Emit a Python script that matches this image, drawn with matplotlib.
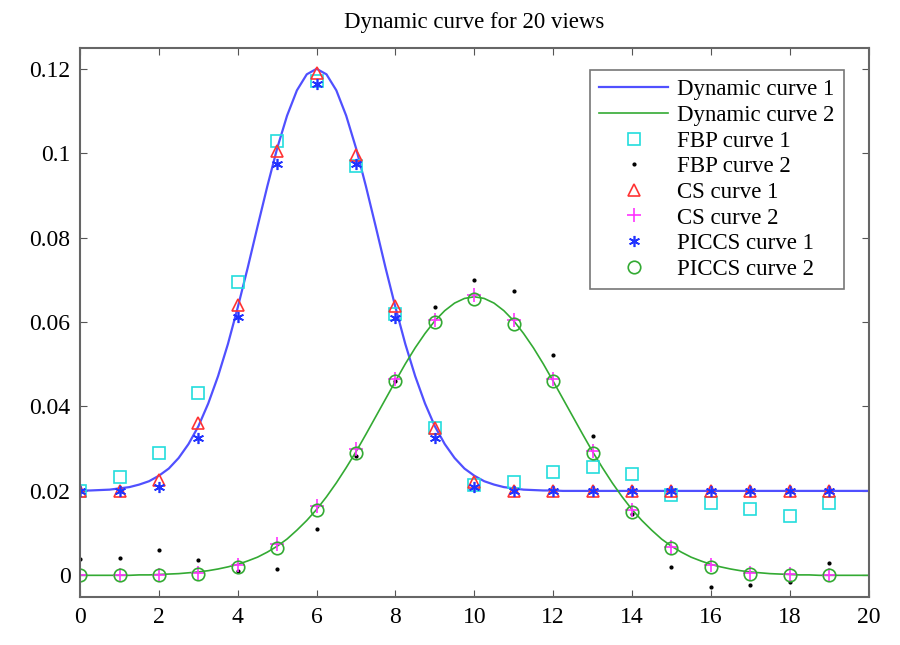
import numpy as np
import matplotlib
matplotlib.use('Agg')
import matplotlib.pyplot as plt

plt.rcParams['font.family'] = ['Liberation Serif', 'DejaVu Serif']

# smooth "true" curves, every quarter view
x_fine = np.arange(0, 20.25, 0.25)
dyn1 = [0.0201, 0.0201, 0.0202, 0.0203, 0.0206, 0.0209, 0.0215, 0.0223,
        0.0236, 0.0253, 0.0278, 0.0311, 0.0353, 0.0407, 0.0472, 0.0548,
        0.0635, 0.0728, 0.0826, 0.0922, 0.1012, 0.1089, 0.1149, 0.1187,
        0.1200,
        0.1187, 0.1149, 0.1089, 0.1012, 0.0922, 0.0826, 0.0728, 0.0635,
        0.0548, 0.0472, 0.0407, 0.0353, 0.0311, 0.0278, 0.0253, 0.0236,
        0.0223, 0.0215, 0.0209, 0.0206, 0.0203, 0.0202, 0.0201, 0.0201,
        0.0200, 0.0200, 0.0200, 0.0200, 0.0200, 0.0200, 0.0200, 0.0200,
        0.0200, 0.0200, 0.0200, 0.0200, 0.0200, 0.0200, 0.0200, 0.0200,
        0.0200, 0.0200, 0.0200, 0.0200, 0.0200, 0.0200, 0.0200, 0.0200,
        0.0200, 0.0200, 0.0200, 0.0200, 0.0200, 0.0200, 0.0200, 0.0200]
dyn2 = [0.0000, 0.0000, 0.0000, 0.0000, 0.0000, 0.0000, 0.0001, 0.0001,
        0.0002, 0.0003, 0.0004, 0.0006, 0.0008, 0.0011, 0.0015, 0.0020,
        0.0026, 0.0034, 0.0043, 0.0055, 0.0069, 0.0086, 0.0107, 0.0130,
        0.0156, 0.0186, 0.0219, 0.0255, 0.0293, 0.0334, 0.0376, 0.0418,
        0.0460, 0.0501, 0.0539, 0.0573, 0.0603, 0.0627, 0.0645, 0.0656,
        0.0660,
        0.0656, 0.0645, 0.0627, 0.0603, 0.0573, 0.0539, 0.0501, 0.0460,
        0.0418, 0.0376, 0.0334, 0.0293, 0.0255, 0.0219, 0.0186, 0.0156,
        0.0130, 0.0107, 0.0086, 0.0069, 0.0055, 0.0043, 0.0034, 0.0026,
        0.0020, 0.0015, 0.0011, 0.0008, 0.0006, 0.0004, 0.0003, 0.0002,
        0.0001, 0.0001, 0.0000, 0.0000, 0.0000, 0.0000, 0.0000, 0.0000]

# reconstructions at each of the 20 views
views = np.arange(20)
fbp1 = [0.0200, 0.0233, 0.0290, 0.0433, 0.0695, 0.1029, 0.1170, 0.0970,
        0.0620, 0.0350, 0.0215, 0.0220, 0.0245, 0.0257, 0.0239, 0.0190,
        0.0172, 0.0158, 0.0141, 0.0172]
fbp2 = [0.0039, 0.0041, 0.0059, 0.0036, 0.0010, 0.0016, 0.0109, 0.0282,
        0.0460, 0.0635, 0.0700, 0.0674, 0.0523, 0.0330, 0.0146, 0.0020,
        -0.0028, -0.0024, -0.0016, 0.0030]
cs1 = [0.0200, 0.0200, 0.0225, 0.0360, 0.0640, 0.1005, 0.1190, 0.0995,
       0.0637, 0.0350, 0.0222, 0.0200, 0.0200, 0.0200, 0.0200, 0.0200,
       0.0200, 0.0200, 0.0200, 0.0200]
cs2 = [0.0000, 0.0000, 0.0000, 0.0005, 0.0025, 0.0075, 0.0165, 0.0300,
       0.0465, 0.0605, 0.0665, 0.0605, 0.0465, 0.0295, 0.0155, 0.0068,
       0.0025, 0.0005, 0.0002, 0.0000]
piccs1 = [0.0200, 0.0200, 0.0210, 0.0325, 0.0612, 0.0975, 0.1165, 0.0975,
          0.0610, 0.0325, 0.0210, 0.0200, 0.0200, 0.0200, 0.0200, 0.0200,
          0.0200, 0.0200, 0.0200, 0.0200]
piccs2 = [0.0000, 0.0000, 0.0000, 0.0003, 0.0020, 0.0065, 0.0155, 0.0290,
          0.0460, 0.0600, 0.0655, 0.0595, 0.0460, 0.0290, 0.0150, 0.0065,
          0.0020, 0.0003, 0.0000, 0.0000]

fig = plt.figure(figsize=(9, 6.45), dpi=100)
ax = fig.add_axes([0.089, 0.074, 0.876, 0.852])

ax.plot(x_fine, dyn1, color='#5050ff', lw=1.6, label='Dynamic curve 1')
ax.plot(x_fine, dyn2, color='#33aa33', lw=1.2, label='Dynamic curve 2')
ax.plot(views, fbp1, ls='none', marker='s', ms=8, mfc='none', mec='#22dddd',
        mew=1.2, label='FBP curve 1')
ax.plot(views, fbp2, ls='none', marker='.', ms=4, color='black', label='FBP curve 2')
ax.plot(views, cs1, ls='none', marker='^', ms=9, mfc='none', mec='#ff3333',
        mew=1.2, label='CS curve 1')
ax.plot(views, cs2, ls='none', marker='+', ms=10, color='#ff33ff', mew=1.2,
        label='CS curve 2')
ax.plot(views, piccs1, ls='none', marker=(6, 2, 0), ms=8, color='#2233ff',
        mew=1.2, label='PICCS curve 1')
ax.plot(views, piccs2, ls='none', marker='o', ms=9, mfc='none', mec='#33aa33',
        mew=1.2, label='PICCS curve 2')

ax.set_xlim(0, 20)
ax.set_ylim(-0.0052, 0.125)
ax.set_xticks(np.arange(0, 21, 2))
ax.set_yticks([0, 0.02, 0.04, 0.06, 0.08, 0.1, 0.12])
ax.set_yticklabels(['0', '0.02', '0.04', '0.06', '0.08', '0.1', '0.12'])
ax.tick_params(direction='in', top=True, right=True, labelsize=17,
               length=5, color='#555555', pad=7)
for s in ax.spines.values():
    s.set_color('#666666')
    s.set_linewidth(1.5)

ax.set_title('Dynamic curve for 20 views', fontsize=16.5, pad=14)

leg = ax.legend(loc='upper right', fontsize=16.5, frameon=True, fancybox=False,
                edgecolor='#555555', borderpad=0.4, labelspacing=0.2,
                handlelength=3.0, handletextpad=0.4,
                bbox_to_anchor=(0.983, 0.98))
leg.get_frame().set_linewidth(1.2)

plt.savefig('out.png', dpi=100)
